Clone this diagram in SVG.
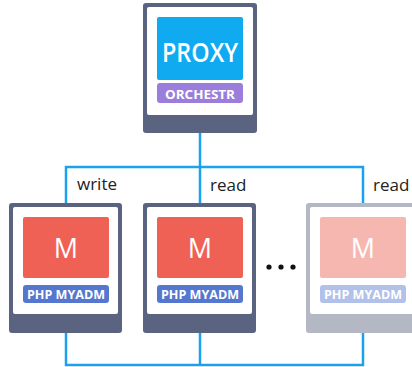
<svg xmlns="http://www.w3.org/2000/svg" width="412" height="367" viewBox="0 0 412 367">
<style>
.frame{fill:#5a6480}
.inner{fill:#ffffff}
.red{fill:#ef6154}
.lbl{fill:#5577d0}
.m{font-family:"Open Sans","DejaVu Sans",sans-serif;font-size:27px;font-weight:500;fill:#ffffff;text-anchor:middle}
.php{font-family:"Open Sans","DejaVu Sans",sans-serif;font-size:13px;font-weight:700;fill:#ffffff;text-anchor:middle}
.conn{fill:none;stroke:#1ba2ef;stroke-width:2.5}
.edge{font-family:"Open Sans","DejaVu Sans",sans-serif;font-size:17px;fill:#222222}
</style>
<g id="connectors">
<path class="conn" d="M200,133 V167 M66,203 V167 H363 V203 M200,167 V203"/>
<path class="conn" d="M66,333 V365 H363 V333 M200,333 V365"/>
<text class="edge" x="77" y="190">write</text>
<text class="edge" x="210" y="191">read</text>
<text class="edge" x="373" y="191">read</text>
</g>
<g id="proxy">
<rect class="frame" x="143" y="3" width="114" height="130" rx="3"/>
<rect class="inner" x="147" y="7" width="106" height="108" rx="2"/>
<rect x="157" y="17" width="86" height="63" rx="2" fill="#10aaf0"/>
<rect x="157" y="83" width="86" height="20" rx="3" fill="#9b7ddb"/>
<text x="200" y="62" font-family="'Open Sans','DejaVu Sans',sans-serif" font-size="27" font-weight="600" fill="#ffffff" text-anchor="middle" textLength="76" lengthAdjust="spacingAndGlyphs">PROXY</text>
<text x="200" y="99" font-family="'Open Sans','DejaVu Sans',sans-serif" font-size="13" font-weight="700" fill="#ffffff" text-anchor="middle" textLength="70" lengthAdjust="spacingAndGlyphs">ORCHESTR</text>
</g>
<g id="node1">
<rect class="frame" x="9" y="203" width="113" height="130" rx="3"/>
<rect class="inner" x="13" y="207" width="105" height="107" rx="2"/>
<rect class="red" x="23" y="217" width="86" height="61" rx="2"/>
<rect class="lbl" x="23" y="285" width="86" height="18" rx="3"/>
<text class="m" x="66" y="258">M</text>
<text class="php" x="66" y="299" textLength="78" lengthAdjust="spacingAndGlyphs">PHP MYADM</text>
</g>
<g id="node2">
<rect class="frame" x="143" y="203" width="113" height="130" rx="3"/>
<rect class="inner" x="147" y="207" width="105" height="107" rx="2"/>
<rect class="red" x="157" y="217" width="86" height="61" rx="2"/>
<rect class="lbl" x="157" y="285" width="86" height="18" rx="3"/>
<text class="m" x="200" y="258">M</text>
<text class="php" x="200" y="299" textLength="78" lengthAdjust="spacingAndGlyphs">PHP MYADM</text>
</g>
<g id="ellipsis" fill="#111111">
<circle cx="269" cy="267" r="2.6"/>
<circle cx="281" cy="267" r="2.6"/>
<circle cx="293" cy="267" r="2.6"/>
</g>
<g id="node3" opacity="0.45">
<rect class="frame" x="306" y="203" width="113" height="130" rx="3"/>
<rect class="inner" x="310" y="207" width="105" height="107" rx="2"/>
<rect class="red" x="320" y="217" width="86" height="61" rx="2"/>
<rect class="lbl" x="320" y="285" width="86" height="18" rx="3"/>
<text class="m" x="363" y="258">M</text>
<text class="php" x="363" y="299" textLength="78" lengthAdjust="spacingAndGlyphs">PHP MYADM</text>
</g>
</svg>
